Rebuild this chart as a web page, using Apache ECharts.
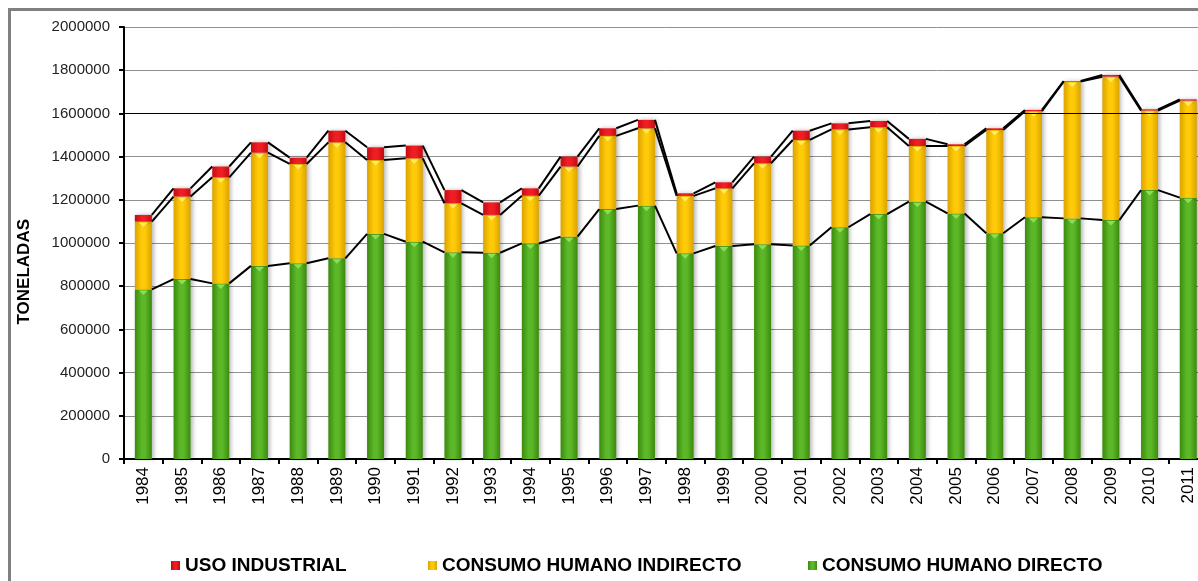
<!DOCTYPE html>
<html>
<head>
<meta charset="utf-8">
<script src="https://cdn.jsdelivr.net/npm/echarts@6/dist/echarts.min.js"></script>
<style>
  html, body { margin: 0; padding: 0; background: #fff; overflow: hidden; }
  #chart { width: 1230px; height: 581px; }
</style>
</head>
<body>
<div id="chart"></div>
<script>
// Destino de la producción (toneladas), 1984-2011
const years = ['1984','1985','1986','1987','1988','1989','1990','1991','1992','1993',
  '1994','1995','1996','1997','1998','1999','2000','2001','2002','2003',
  '2004','2005','2006','2007','2008','2009','2010','2011'];

const consumoDirecto = [785000, 833000, 813000, 894000, 906000, 929000, 1042000, 1006000, 957000, 955000,
  998000, 1029000, 1157000, 1173000, 952000, 986000, 994000, 988000, 1073000, 1134000,
  1191000, 1137000, 1045000, 1119000, 1114000, 1106000, 1245000, 1210000];

const consumoIndirecto = [314000, 382000, 491000, 524000, 460000, 537000, 342000, 386000, 227000, 175000,
  221000, 325000, 339000, 358000, 266000, 267000, 375000, 489000, 453000, 402000,
  258000, 312000, 478000, 491000, 633000, 664000, 368000, 449000];

const usoIndustrial = [31000, 38000, 50000, 48000, 29000, 54000, 59000, 59000, 61000, 58000,
  34000, 46000, 35000, 39000, 12000, 28000, 31000, 43000, 28000, 29000,
  33000, 8000, 8000, 6000, 3000, 8000, 6000, 6000];

const yTicks = [0, 200000, 400000, 600000, 800000, 1000000, 1200000, 1400000, 1600000, 1800000, 2000000];

const BAR_W = 17;
const FONT = 'Arial, "Liberation Sans", sans-serif';

function grad(dark, light) {
  return new echarts.graphic.LinearGradient(0, 0, 1, 0, [
    { offset: 0, color: dark },
    { offset: 0.4, color: light },
    { offset: 0.6, color: light },
    { offset: 1, color: dark }
  ]);
}

// Cumulative tops of each stacked segment
const topDirecto = consumoDirecto.slice();
const topIndirecto = consumoDirecto.map((v, i) => v + consumoIndirecto[i]);
const topTotal = topIndirecto.map((v, i) => v + usoIndustrial[i]);

// Series lines: pairs of neighbouring bars
const seriesLineData = [];
for (let i = 0; i < years.length - 1; i++) {
  seriesLineData.push([i, topDirecto[i], topDirecto[i + 1], topIndirecto[i], topIndirecto[i + 1], topTotal[i], topTotal[i + 1]]);
}
// Light bevel marks on top of the green and yellow segments
const bevelData = years.map((y, i) => [i, topDirecto[i], topIndirecto[i]]);

const chart = echarts.init(document.getElementById('chart'), null, { renderer: 'canvas' });

const barShadow = { shadowColor: 'rgba(0,0,0,0.28)', shadowBlur: 4, shadowOffsetX: 2, shadowOffsetY: 0 };

const legendText = { fontFamily: FONT, fontSize: 19, fontWeight: 'bold', color: '#000' };
const legendBase = { top: 551, itemWidth: 9, itemHeight: 9, itemGap: 4, textStyle: legendText, icon: 'rect' };

chart.setOption({
  animation: false,
  backgroundColor: '#ffffff',
  grid: { left: 124, top: 27, width: 28 * 38.7, height: 432, containLabel: false },
  legend: [
    Object.assign({ data: ['USO INDUSTRIAL'], left: 166 }, legendBase),
    Object.assign({ data: ['CONSUMO HUMANO INDIRECTO'], left: 423 }, legendBase),
    Object.assign({ data: ['CONSUMO HUMANO DIRECTO'], left: 803 }, legendBase)
  ],
  graphic: [
    {
      type: 'polyline', silent: true,
      shape: { points: [[9.5, 700], [9.5, 9.5], [1300, 9.5]] },
      style: { stroke: '#808080', lineWidth: 3, fill: null }
    },
    {
      type: 'text', silent: true,
      left: 16, top: 219,
      rotation: Math.PI / 2,
      style: {
        text: 'TONELADAS',
        font: 'bold 17px ' + FONT,
        fill: '#000'
      }
    }
  ],
  xAxis: {
    type: 'category',
    data: years,
    boundaryGap: true,
    axisLine: { lineStyle: { color: '#000', width: 2 } },
    axisTick: { show: true, length: 5, lineStyle: { color: '#000', width: 2 } },
    axisLabel: {
      rotate: 90, margin: 8, color: '#000', fontSize: 17,
      fontFamily: FONT, interval: 0
    },
    splitLine: { show: false }
  },
  yAxis: {
    type: 'value',
    min: 0, max: 2000000, interval: 200000,
    axisLine: { show: true, lineStyle: { color: '#000', width: 2 } },
    axisTick: { show: true, length: 5, lineStyle: { color: '#000', width: 2 } },
    axisLabel: {
      margin: 14, color: '#222', fontSize: 15,
      fontFamily: FONT,
      formatter: v => yTicks.indexOf(v) >= 0 ? String(v) : ''
    },
    splitLine: { show: true, lineStyle: { color: '#909090', width: 1 } }
  },
  series: [
    {
      name: 'CONSUMO HUMANO DIRECTO', type: 'bar', stack: 'total', barWidth: BAR_W,
      data: consumoDirecto,
      itemStyle: Object.assign({ color: grad('#3b8a0e', '#5cb828') }, barShadow),
      markLine: {
        silent: true, symbol: 'none', label: { show: false },
        lineStyle: { color: '#000', width: 1, type: 'solid' },
        data: [{ yAxis: 1600000 }]
      },
      z: 2
    },
    {
      name: 'CONSUMO HUMANO INDIRECTO', type: 'bar', stack: 'total', barWidth: BAR_W,
      data: consumoIndirecto,
      itemStyle: Object.assign({ color: grad('#dba300', '#ffca08') }, barShadow),
      z: 2
    },
    {
      name: 'USO INDUSTRIAL', type: 'bar', stack: 'total', barWidth: BAR_W,
      data: usoIndustrial,
      itemStyle: Object.assign({ color: grad('#c30a12', '#f01e24') }, barShadow),
      z: 2
    },
    {
      name: 'biseles', type: 'custom', silent: true, z: 4,
      data: bevelData,
      encode: { x: 0, y: 1 },
      renderItem: function (params, api) {
        const i = api.value(0);
        const g = api.coord([i, api.value(1)]);
        const y = api.coord([i, api.value(2)]);
        const tri = (p, color) => ({
          type: 'polygon',
          shape: { points: [[p[0] - 4.5, p[1] + 1], [p[0] + 4.5, p[1] + 1], [p[0], p[1] + 5.5]] },
          style: { fill: color }
        });
        return { type: 'group', children: [tri(g, '#8be04f'), tri(y, '#ffec5c')] };
      }
    },
    {
      name: 'lineas', type: 'custom', silent: true, z: 5,
      data: seriesLineData,
      encode: { x: 0, y: 1 },
      renderItem: function (params, api) {
        const i = api.value(0);
        const half = BAR_W / 2;
        const children = [];
        for (let k = 0; k < 3; k++) {
          const a = api.coord([i, api.value(1 + 2 * k)]);
          const b = api.coord([i + 1, api.value(2 + 2 * k)]);
          children.push({
            type: 'line',
            shape: { x1: a[0] + half, y1: a[1], x2: b[0] - half, y2: b[1] },
            style: { stroke: '#000', lineWidth: 2 }
          });
        }
        return { type: 'group', children: children };
      }
    }
  ]
});
</script>
</body>
</html>
